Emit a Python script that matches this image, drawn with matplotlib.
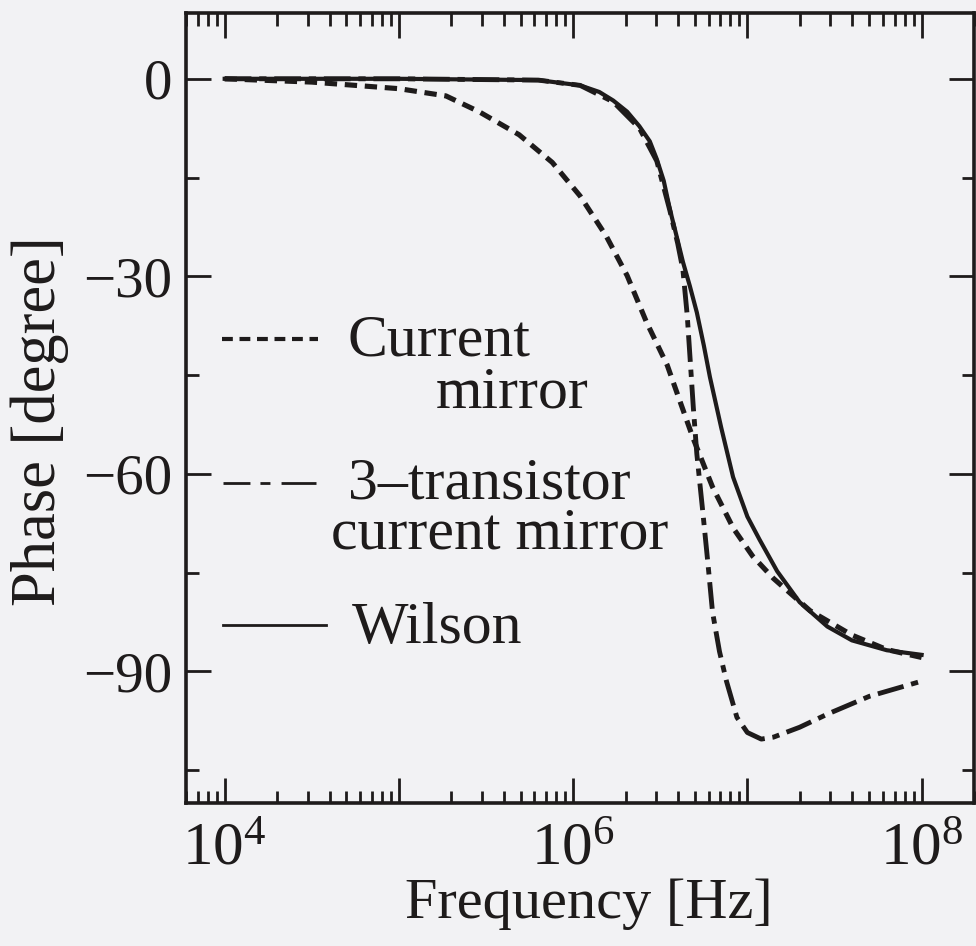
import numpy as np
import matplotlib
matplotlib.use("Agg")
import matplotlib.pyplot as plt
from matplotlib.ticker import FixedLocator, LogLocator, NullFormatter, FuncFormatter

# log10(frequency) and phase in degrees
wilson_logf = [4.0, 5.0, 5.8, 6.04, 6.15, 6.23, 6.31, 6.38, 6.44, 6.48, 6.52, 6.555,
               6.59, 6.63, 6.67, 6.71, 6.75, 6.785, 6.85, 6.918, 7.0, 7.07, 7.171,
               7.3, 7.459, 7.6, 7.8, 8.0]
wilson_phase = [0.0, 0.0, -0.2, -1.0, -2.0, -3.3, -5.0, -7.2, -9.5, -12.2, -15.5, -19.8,
                -23.5, -27.8, -31.5, -35.5, -40.5, -45.3, -53.0, -60.5, -66.5, -70.0, -74.8,
                -79.5, -83.2, -85.3, -86.8, -87.5]

mirror_logf = [4.0, 4.5, 5.0, 5.27, 5.46, 5.69, 5.88, 6.04, 6.19, 6.31, 6.42, 6.54,
               6.62, 6.69, 6.8, 6.92, 7.03, 7.15, 7.36, 7.6, 7.8, 8.0]
mirror_phase = [0.0, -0.5, -1.5, -2.6, -5.0, -8.5, -12.7, -17.8, -23.9, -29.9, -36.9, -43.5,
                -49.5, -54.7, -62.0, -68.3, -72.5, -75.9, -80.8, -84.5, -86.7, -87.9]

three_tr_logf = [4.0, 5.0, 5.8, 6.04, 6.23, 6.38, 6.48, 6.555, 6.6, 6.63, 6.655, 6.67,
                 6.69, 6.71, 6.745, 6.775, 6.80, 6.84, 6.88, 6.94, 7.0, 7.08, 7.15,
                 7.3, 7.46, 7.7, 8.0]
three_tr_phase = [0.0, 0.0, -0.2, -1.0, -3.5, -7.5, -12.5, -20.0, -25.0, -29.0, -36.0, -42.0,
                  -50.0, -57.0, -66.0, -74.0, -81.0, -87.0, -91.5, -97.0, -99.3, -100.3, -100.0,
                  -98.5, -96.5, -93.8, -91.5]

y_major = [0, -30, -60, -90]
y_minor = [-15, -45, -75, -105]
x_labelled = [1e4, 1e6, 1e8]

plt.rcParams["font.family"] = ["Liberation Serif", "DejaVu Serif"]
plt.rcParams["mathtext.fontset"] = "custom"
plt.rcParams["mathtext.rm"] = "Liberation Serif"

ink = "#1e1b1b"
paper = "#f2f2f4"

fig = plt.figure(figsize=(9.76, 9.46), dpi=100, facecolor=paper)
ax = fig.add_axes([0.1906, 0.1512, 0.8074, 0.8351], facecolor=paper)

ax.plot(10 ** np.array(mirror_logf), mirror_phase, color=ink, lw=3.7,
        dashes=(2.4, 1.5))
ax.plot(10 ** np.array(three_tr_logf), three_tr_phase, color=ink, lw=3.5,
        dashes=(5.5, 1.6, 1.5, 1.6))
ax.plot(10 ** np.array(wilson_logf), wilson_phase, color=ink, lw=3.0)

ax.set_xscale("log")
ax.set_xlim(6e3, 2e8)
ax.set_ylim(-110, 10)

ax.xaxis.set_major_locator(LogLocator(base=10, numticks=20))
ax.xaxis.set_minor_locator(LogLocator(base=10, subs=np.arange(2, 10), numticks=20))
ax.xaxis.set_minor_formatter(NullFormatter())
ax.xaxis.set_major_formatter(FuncFormatter(
    lambda v, _: (r"$\mathregular{10^{%d}}$" % round(np.log10(v))) if any(np.isclose(v, x_labelled)) else ""))
ax.yaxis.set_major_locator(FixedLocator(y_major))
ax.yaxis.set_minor_locator(FixedLocator(y_minor))

ax.tick_params(which="both", direction="in", top=True, right=True, color=ink,
               labelcolor=ink)
ax.tick_params(which="major", length=18, width=2.0)
ax.tick_params(which="minor", length=9, width=2.0)
ax.tick_params(axis="x", which="major", pad=14, labelsize=44)
ax.tick_params(axis="y", which="major", pad=10, labelsize=41)

for side in ax.spines.values():
    side.set_linewidth(2.6)
    side.set_color(ink)

ax.set_xlabel("Frequency [Hz]", fontsize=42, color=ink)
ax.set_ylabel("Phase [degree]", fontsize=45, color=ink)
ax.xaxis.set_label_coords(0.511, -0.095)
ax.yaxis.set_label_coords(-0.148, 0.483)

# hand-placed legend, as in the original figure
key_kw = dict(transform=ax.transAxes, color=ink, clip_on=False)
ax.plot([0.046, 0.168], [0.587, 0.587], lw=3.0, dashes=(2.6, 1.6), **key_kw)
ax.plot([0.047, 0.165], [0.405, 0.405], lw=2.0, dashes=(9.7, 3.6, 3.6, 4.0, 13.0, 4.0), **key_kw)
ax.plot([0.047, 0.178], [0.225, 0.225], lw=2.0, **key_kw)

txt_kw = dict(transform=ax.transAxes, fontsize=43, color=ink, ha="left", va="baseline")
ax.text(0.205, 0.567, "Current", **txt_kw)
ax.text(0.317, 0.500, "mirror", **txt_kw)
ax.text(0.205, 0.386, "3\u2013transistor", **txt_kw)
ax.text(0.184, 0.3215, "current mirror", **txt_kw)
ax.text(0.211, 0.2025, "Wilson", **txt_kw)

fig.savefig("out.png", dpi=100, facecolor=paper)
